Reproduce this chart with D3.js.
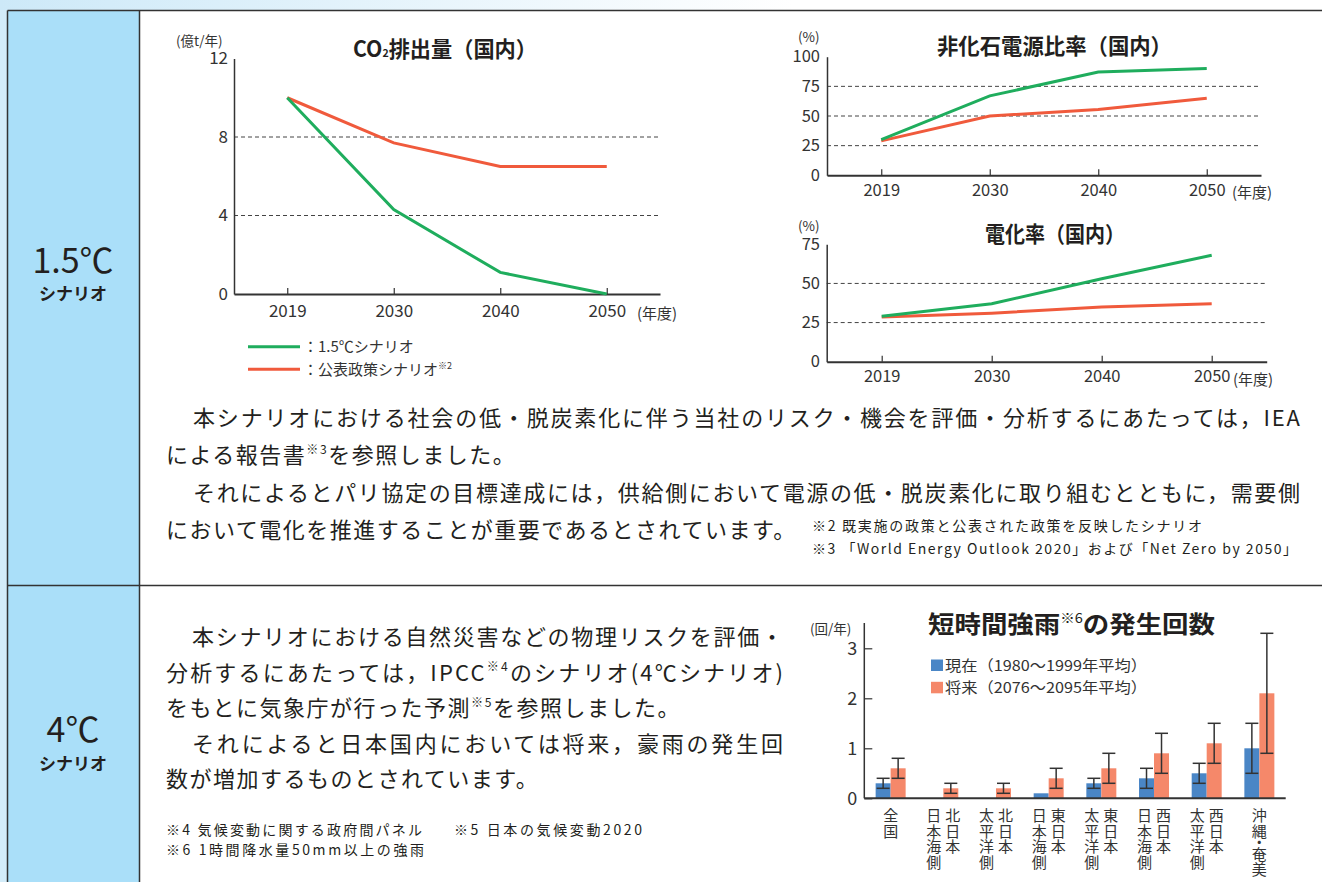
<!DOCTYPE html>
<html>
<head>
<meta charset="utf-8">
<script src="https://cdn.jsdelivr.net/npm/d3@7"></script>
<style>
body { margin: 0; background: #fff; }
svg { display: block; font-family: "Noto Sans CJK JP", "Noto Sans", sans-serif; }
</style>
</head>
<body>
<svg id="page" width="1322" height="882"></svg>
<script>
// data
var years = ["2019", "2030", "2040", "2050"];
var co2Scenario15 = [10, 4.3, 1.1, 0];
var co2Policy = [10, 7.7, 6.5, 6.5];
var nonFossil15 = [30, 67, 87, 90];
var nonFossilPolicy = [29, 50, 55.5, 65];
var elec15 = [29, 37, 53, 68];
var elecPolicy = [28.5, 31, 35, 37];

var rainCats = ["全国", "北日本日本海側", "北日本太平洋側", "東日本日本海側", "東日本太平洋側", "西日本日本海側", "西日本太平洋側", "沖縄・奄美"];
var rainCatCols = [["全国"], ["北日本", "日本海側"], ["北日本", "太平洋側"], ["東日本", "日本海側"], ["東日本", "太平洋側"], ["西日本", "日本海側"], ["西日本", "太平洋側"], ["沖縄・奄美"]];
var rainNow = [0.3, 0, 0, 0.1, 0.3, 0.4, 0.5, 1.0];
var rainNowLo = [0.2, null, null, null, 0.2, 0.2, 0.3, 0.5];
var rainNowHi = [0.4, null, null, null, 0.4, 0.6, 0.7, 1.5];
var rainFuture = [0.6, 0.2, 0.2, 0.4, 0.6, 0.9, 1.1, 2.1];
var rainFutureLo = [0.4, 0.1, 0.1, 0.2, 0.3, 0.5, 0.7, 0.9];
var rainFutureHi = [0.8, 0.3, 0.3, 0.6, 0.9, 1.3, 1.5, 3.3];

var green = "#1fad5d";
var red = "#f05a3c";
var blueBar = "#4a86c6";
var redBar = "#f5886a";
var ink = "#231f20";

var svg = d3.select("#page");

// background + table frame
var defs = svg.append("defs");
var grad = defs.append("linearGradient").attr("id", "bg").attr("x1", "0").attr("x2", "1");
grad.append("stop").attr("offset", "0").attr("stop-color", "#cde9f8");
grad.append("stop").attr("offset", "0.6").attr("stop-color", "#ffffff");
svg.append("rect").attr("width", 1322).attr("height", 882).attr("fill", "url(#bg)");
svg.append("rect").attr("x", 0).attr("y", 10).attr("width", 8).attr("height", 872).attr("fill", "#d3ecf9");
svg.append("rect").attr("x", 7.5).attr("y", 10.5).attr("width", 1320).attr("height", 880).attr("fill", "#fff");
svg.append("rect").attr("x", 7.5).attr("y", 10.5).attr("width", 132).attr("height", 880).attr("fill", "#aadff9");

var frame = svg.append("g").attr("stroke", "#333").attr("stroke-width", 1.5);
frame.append("line").attr("x1", 7.5).attr("x2", 1322).attr("y1", 10.5).attr("y2", 10.5);
frame.append("line").attr("x1", 7.5).attr("x2", 7.5).attr("y1", 10.5).attr("y2", 882);
frame.append("line").attr("x1", 139.5).attr("x2", 139.5).attr("y1", 10.5).attr("y2", 882);
frame.append("line").attr("x1", 7.5).attr("x2", 1322).attr("y1", 585.5).attr("y2", 585.5);

// scenario labels
function scenarioLabel(big, y1, y2) {
  svg.append("text").attr("x", 73).attr("y", y1).attr("text-anchor", "middle")
    .attr("font-size", 34).attr("fill", ink).text(big);
  svg.append("text").attr("x", 73).attr("y", y2).attr("text-anchor", "middle")
    .attr("font-size", 17).attr("font-weight", 700).attr("fill", ink).text("シナリオ");
}
scenarioLabel("1.5℃", 273, 300);
scenarioLabel("4℃", 742, 770);

// line charts
function lineChart(o) {
  var g = svg.append("g");
  var x = d3.scalePoint().domain(years).range([o.x0, o.x1]).padding(0.5);
  var y = d3.scaleLinear().domain([0, o.max]).range([o.y0, o.yTop]);

  g.selectAll(".grid").data(o.grid).enter().append("line")
    .attr("x1", o.x0).attr("x2", o.x1)
    .attr("y1", function(d) { return y(d); }).attr("y2", function(d) { return y(d); })
    .attr("stroke", "#444").attr("stroke-width", 1).attr("stroke-dasharray", "4,3");

  var yAxis = g.append("g").attr("transform", "translate(" + o.x0 + ",0)")
    .call(d3.axisLeft(y).tickValues(o.ticks).tickSize(0).tickSizeOuter(0).tickPadding(o.x0 - o.labelRight))
    .attr("font-family", null).attr("font-size", o.fs);
  yAxis.select(".domain").attr("stroke", "#333").attr("stroke-width", 1.5);
  yAxis.selectAll("text").attr("fill", "#333");

  var xAxis = g.append("g").attr("transform", "translate(0," + o.y0 + ")")
    .call(d3.axisBottom(x).tickSize(-6).tickSizeOuter(0).tickPadding(o.xPad))
    .attr("font-family", null).attr("font-size", o.fs);
  xAxis.select(".domain").attr("stroke", "#333").attr("stroke-width", 2);
  xAxis.selectAll(".tick line").attr("stroke", "#333").attr("stroke-width", 1.2);
  xAxis.selectAll("text").attr("fill", "#333");

  var line = d3.line().x(function(d, i) { return x(years[i]); }).y(function(d) { return y(d); });
  g.append("path").datum(o.policy).attr("d", line).attr("fill", "none")
    .attr("stroke", red).attr("stroke-width", 3);
  g.append("path").datum(o.s15).attr("d", line).attr("fill", "none")
    .attr("stroke", green).attr("stroke-width", 3);

  g.append("text").attr("x", o.unitX).attr("y", o.unitY).attr("font-size", 13.5)
    .attr("fill", "#333").text(o.unit);
  g.append("text").attr("x", o.nendoX).attr("y", o.y0 + o.xPad + o.fs * 0.85)
    .attr("font-size", 15).attr("fill", "#333").text("(年度)");
  return { g: g, x: x, y: y };
}

lineChart({
  x0: 234, x1: 660, y0: 294, yTop: 58.5, max: 12, ticks: [0, 4, 8, 12], grid: [4, 8],
  labelRight: 228, fs: 17, xPad: 11, s15: co2Scenario15, policy: co2Policy,
  unit: "(億t/年)", unitX: 176, unitY: 45.5, nendoX: 637
});
lineChart({
  x0: 827, x1: 1261, y0: 175.3, yTop: 56.7, max: 100, ticks: [0, 25, 50, 75, 100], grid: [25, 50, 75],
  labelRight: 820, fs: 16.5, xPad: 9, s15: nonFossil15, policy: nonFossilPolicy,
  unit: "(%)", unitX: 798, unitY: 42, nendoX: 1232
});
lineChart({
  x0: 826.7, x1: 1266.7, y0: 361.7, yTop: 244.3, max: 75, ticks: [0, 25, 50, 75], grid: [25, 50],
  labelRight: 820, fs: 16.5, xPad: 9, s15: elec15, policy: elecPolicy,
  unit: "(%)", unitX: 798, unitY: 230.5, nendoX: 1233
});

// chart titles
function title(parts, x0, x1, baseline, fs) {
  var t = svg.append("text").attr("x", x0).attr("y", baseline).attr("font-size", fs)
    .attr("font-weight", 700).attr("fill", ink)
    .attr("textLength", x1 - x0).attr("lengthAdjust", "spacingAndGlyphs");
  parts.forEach(function(p) {
    var s = t.append("tspan").text(p[0]);
    if (p[1] === "sub") s.attr("font-size", fs * 0.5).attr("font-weight", 700);
    if (p[1] === "sup") s.attr("font-size", fs * 0.55).attr("dy", -fs * 0.4).attr("font-weight", 400);
    if (p[1] === "back") s.attr("dy", fs * 0.4);
  });
}
title([["CO"], ["2", "sub"], ["排出量（国内）"]], 353, 537, 57, 22);
title([["非化石電源比率（国内）"]], 937, 1172, 54, 22);
title([["電化率（国内）"]], 985, 1125, 242, 22);
title([["短時間強雨"], ["※6", "sup"], ["の発生回数", "back"]], 928, 1215, 633, 24);

// CO2 legend
var legendRows = [[green, "：1.5℃シナリオ", ""], [red, "：公表政策シナリオ", "※2"]];
legendRows.forEach(function(r, i) {
  var yy = 346.7 + i * 22.6;
  svg.append("line").attr("x1", 248).attr("x2", 300).attr("y1", yy).attr("y2", yy)
    .attr("stroke", r[0]).attr("stroke-width", 3);
  var t = svg.append("text").attr("x", 303).attr("y", yy + 5.5).attr("font-size", 15).attr("fill", "#333").text(r[1]);
  if (r[2]) t.append("tspan").attr("font-size", 9).attr("dy", -6).text(r[2]);
});

// rain bar chart
var bx = d3.scaleBand().domain(rainCats).range([864.3, 1285.7]);
var by = d3.scaleLinear().domain([0, 3]).range([798.3, 648.3]);
var bw = 15;
var bar = svg.append("g");

bar.selectAll(".now").data(rainNow).enter().append("rect")
  .attr("x", function(d, i) { return bx(rainCats[i]) + bx.bandwidth() / 2 - bw; })
  .attr("y", function(d) { return by(d); }).attr("width", bw)
  .attr("height", function(d) { return by(0) - by(d); }).attr("fill", blueBar);
bar.selectAll(".fut").data(rainFuture).enter().append("rect")
  .attr("x", function(d, i) { return bx(rainCats[i]) + bx.bandwidth() / 2; })
  .attr("y", function(d) { return by(d); }).attr("width", bw)
  .attr("height", function(d) { return by(0) - by(d); }).attr("fill", redBar);

function errBars(lo, hi, off) {
  rainCats.forEach(function(c, i) {
    if (lo[i] == null) return;
    var cx = bx(c) + bx.bandwidth() / 2 + off;
    var eg = bar.append("g").attr("stroke", "#333").attr("stroke-width", 1.5);
    eg.append("line").attr("x1", cx).attr("x2", cx).attr("y1", by(lo[i])).attr("y2", by(hi[i]));
    [lo[i], hi[i]].forEach(function(v) {
      eg.append("line").attr("x1", cx - 6.5).attr("x2", cx + 6.5).attr("y1", by(v)).attr("y2", by(v));
    });
  });
}
errBars(rainNowLo, rainNowHi, -bw / 2);
errBars(rainFutureLo, rainFutureHi, bw / 2);

var bAxis = bar.append("g").attr("transform", "translate(864.3,0)")
  .call(d3.axisLeft(by).tickValues([0, 1, 2, 3]).tickFormat(d3.format("d"))
    .tickSize(-8).tickSizeOuter(0).tickPadding(7))
  .attr("font-family", null).attr("font-size", 18);
bAxis.select(".domain").remove();
bAxis.selectAll(".tick line").attr("stroke", "#333").attr("stroke-width", 1.2);
bAxis.selectAll("text").attr("fill", "#333");
bar.append("line").attr("x1", 864.3).attr("x2", 864.3).attr("y1", 623).attr("y2", 798.3)
  .attr("stroke", "#333").attr("stroke-width", 1.5);
bar.append("line").attr("x1", 864.3).attr("x2", 1285.7).attr("y1", 798.3).attr("y2", 798.3)
  .attr("stroke", "#333").attr("stroke-width", 2);

bar.append("text").attr("x", 810).attr("y", 634).attr("font-size", 13.5).attr("fill", "#333").text("(回/年)");

// vertical category labels, one column of vertical text per line
rainCatCols.forEach(function(cols, i) {
  var cx = bx(rainCats[i]) + bx.bandwidth() / 2;
  cols.forEach(function(col, j) {
    var colX = cols.length === 1 ? cx : (j === 0 ? cx + 9.5 : cx - 9.5);
    var t = bar.append("text").attr("x", colX).attr("y", 807.5)
      .style("writing-mode", "vertical-rl")
      .attr("font-size", 15).attr("fill", "#333");
    col.split("").forEach(function(ch, k) {
      // the middle dot and the glyph before it sit closer together
      var tight = ch === "・" || col.charAt(k + 1) === "・";
      t.append("tspan").attr("letter-spacing", tight ? -3.5 : 0.6).text(ch);
    });
  });
});

// rain legend
var rainLegend = [[blueBar, "現在（1980～1999年平均）"], [redBar, "将来（2076～2095年平均）"]];
rainLegend.forEach(function(r, i) {
  var yy = 659.5 + i * 22.3;
  bar.append("rect").attr("x", 931).attr("y", yy).attr("width", 12).attr("height", 11.5).attr("fill", r[0]);
  bar.append("text").attr("x", 945).attr("y", yy + 11).attr("font-size", 15).attr("fill", "#333")
    .attr("textLength", 202).attr("lengthAdjust", "spacingAndGlyphs").text(r[1]);
});

// body text
function para(x, baseline, parts, fs, len) {
  var t = svg.append("text").attr("x", x).attr("y", baseline).attr("font-size", fs).attr("fill", ink);
  if (len) t.attr("textLength", len).attr("lengthAdjust", "spacing");
  else t.attr("letter-spacing", fs > 18 ? 1.5 : 0.4);
  var up = false;
  parts.forEach(function(p) {
    var s = t.append("tspan").text(p);
    if (p.charAt(0) === "※" && fs > 18) {
      s.attr("font-size", fs * 0.55).attr("dy", -fs * 0.42);
      up = true;
    } else if (up) {
      s.attr("dy", fs * 0.42);
      up = false;
    }
  });
}
para(193, 426, ["本シナリオにおける社会の低・脱炭素化に伴う当社のリスク・機会を評価・分析するにあたっては，IEA"], 22, 1107);
para(166, 463, ["による報告書", "※3", "を参照しました。"], 22);
para(193, 501, ["それによるとパリ協定の目標達成には，供給側において電源の低・脱炭素化に取り組むとともに，需要側"], 22, 1107);
para(166, 538, ["において電化を推進することが重要であるとされています。"], 22);
para(812, 531, ["※2 既実施の政策と公表された政策を反映したシナリオ"], 14, 390);
para(812, 554, ["※3 「World  Energy Outlook 2020」および「Net Zero by 2050」"], 14, 485);

para(192, 645, ["本シナリオにおける自然災害などの物理リスクを評価・"], 22, 591);
para(166, 680.5, ["分析するにあたっては，IPCC", "※4", "のシナリオ(4℃シナリオ)"], 22, 617);
para(166, 716, ["をもとに気象庁が行った予測", "※5", "を参照しました。"], 22);
para(192, 751.5, ["それによると日本国内においては将来，豪雨の発生回"], 22, 591);
para(166, 787, ["数が増加するものとされています。"], 22);
para(166, 835, ["※4 気候変動に関する政府間パネル"], 14, 256);
para(454, 835, ["※5 日本の気候変動2020"], 14, 188);
para(166, 855, ["※6 1時間降水量50mm以上の強雨"], 14, 258);
</script>
</body>
</html>
